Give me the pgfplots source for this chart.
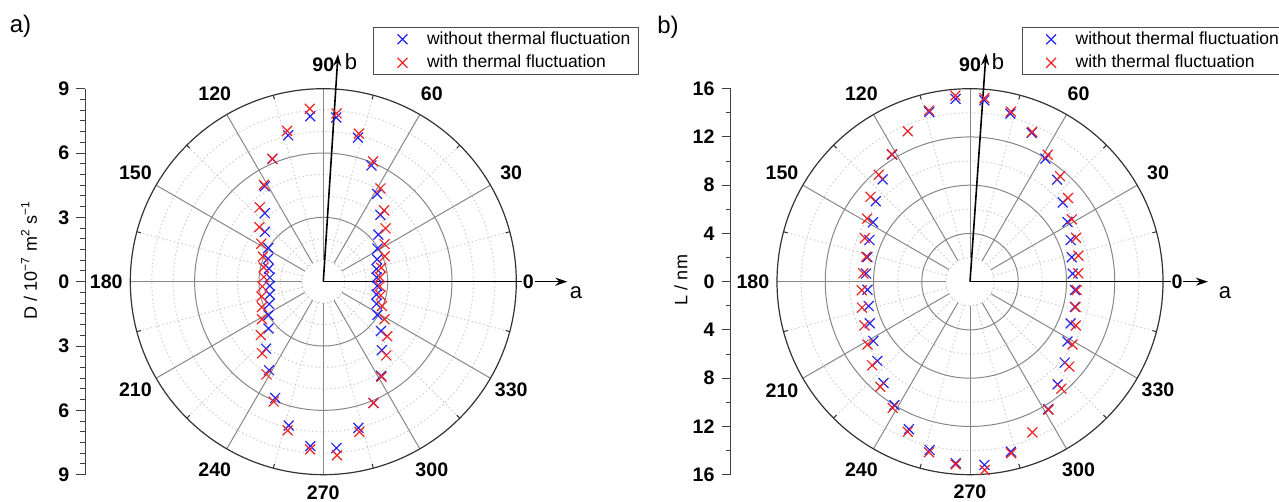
\documentclass[border=0pt]{standalone}
\usepackage{pgfplots}
\pgfplotsset{compat=1.18}
\usepackage{fontspec}
\setmainfont{Liberation Sans}
\usetikzlibrary{arrows.meta}

\definecolor{mblue}{RGB}{35,35,240}
\definecolor{mred}{RGB}{240,35,35}
\definecolor{gline}{RGB}{135,135,135}
\definecolor{dline}{RGB}{205,205,205}

\newcommand{\tickfont}{\fontsize{9.8}{11}\selectfont\bfseries}

\pgfplotsset{
  polarpanel/.style={
    scale only axis, anchor=south west, clip=false,
    axis x line=none, axis y line=left,
    y axis line style={-, black!75, line width=0.5pt},
    tick align=outside, major tick length=4.5pt, minor tick length=2.5pt,
    tick style={black!75, line width=0.5pt},
    yticklabel style={font=\tickfont},
    legend cell align=left,
    legend image code/.code={\path[draw=none, fill=none] (0pt,-3pt) rectangle (22.75pt,3pt);
      \draw[##1] plot coordinates {(12.5pt,0pt)};},
    legend style={anchor=north west, draw=black!70, line width=0.5pt,
      font=\fontsize{8.75}{10.5}\selectfont, inner xsep=2pt, inner ysep=0.8pt,
      row sep=1.5pt, /tikz/every even column/.style={column sep=0pt},
      nodes={inner xsep=2pt, inner ysep=1.2pt}},
  },
  bluex/.style={only marks, mark=x, mark size=3.5pt, mblue, line width=0.6pt, data cs=polar},
  redx/.style={only marks, mark=x, mark size=3.5pt, mred, line width=0.6pt, data cs=polar},
}

\begin{document}
\begin{tikzpicture}
\useasboundingbox (0pt,0pt) rectangle (639.5pt,251pt);

% ---------- panel a: grid ----------
\begin{scope}[shift={(161.65pt,110.15pt)}, x=10.722pt, y=10.722pt]
  \foreach \r in {1,2,4,5,7,8}
    \draw[dline, line width=0.5pt, dash pattern=on 0.7pt off 1.3pt] (0,0) circle[radius=\r];
  \foreach \a in {15,45,...,345}
    \draw[dline, line width=0.5pt, dash pattern=on 0.7pt off 1.3pt] (\a:1) -- (\a:9);
  \foreach \r in {3,6}
    \draw[gline, line width=0.5pt] (0,0) circle[radius=\r];
  \foreach \a in {30,60,...,330}
    \draw[gline, line width=0.5pt] (\a:1) -- (\a:9);
  \draw[black!80, line width=0.6pt] (0,0) circle[radius=9];
  \foreach \a in {15,45,...,345}
    \draw[black!80, line width=0.5pt] (\a:9) -- (\a:8.8);
  \draw[-{Stealth[length=6pt,width=4pt]}, line width=0.8pt] (0,0) -- (0:11.38);
  \draw[-{Stealth[length=6pt,width=4pt]}, line width=0.8pt] (0,0) -- (86.3:10.63);
  \foreach \a in {30,60,90,120,150,180,210,240,300,330}
    \node[font=\tickfont] at (\a:10.12) {\a};
  \node[font=\tickfont] at (270:9.83) {270};
  \node[font=\tickfont, fill=white, inner sep=0.5pt] at (0:9.56) {0};
\end{scope}

% ---------- panel b: grid ----------
\begin{scope}[shift={(485pt,110.15pt)}, x=6.03125pt, y=6.03125pt]
  \foreach \r in {2,6,10,14}
    \draw[dline, line width=0.5pt, dash pattern=on 0.7pt off 1.3pt] (0,0) circle[radius=\r];
  \foreach \a in {15,45,...,345}
    \draw[dline, line width=0.5pt, dash pattern=on 0.7pt off 1.3pt] (\a:2) -- (\a:16);
  \foreach \r in {4,8,12}
    \draw[gline, line width=0.5pt] (0,0) circle[radius=\r];
  \foreach \a in {30,60,...,330}
    \draw[gline, line width=0.5pt] (\a:2) -- (\a:16);
  \draw[black!80, line width=0.6pt] (0,0) circle[radius=16];
  \foreach \a in {15,45,...,345}
    \draw[black!80, line width=0.5pt] (\a:16) -- (\a:15.65);
  \draw[-{Stealth[length=6pt,width=4pt]}, line width=0.8pt] (0,0) -- (0:19.73);
  \draw[-{Stealth[length=6pt,width=4pt]}, line width=0.8pt] (0,0) -- (86.0:18.98);
  \foreach \a in {30,60,90,120,150,180,210,240,300,330}
    \node[font=\tickfont] at (\a:18.0) {\a};
  \node[font=\tickfont] at (270:17.45) {270};
  \node[font=\tickfont, fill=white, inner sep=0.5pt] at (0:17.16) {0};
\end{scope}

% ---------- panel a: data ----------
\begin{axis}[polarpanel,
  at={(42.64pt,13.65pt)}, width=215.51pt, height=193pt,
  xmin=-11.1, xmax=9, ymin=-9, ymax=9,
  ytick={-9,-6,-3,0,3,6,9}, yticklabels={9,6,3,0,3,6,9},
  minor y tick num=5,
  legend style={at={(axis cs:2.318,11.877)}},
]
\addplot[bluex] coordinates {
(4.5,2.50) (13.5,2.55) (22.5,2.72) (31.5,2.96) (40.5,3.38) (49.5,4.10)
(58.5,4.80) (67.5,5.87) (76.5,6.91) (85.5,7.68) (94.5,7.74) (103.5,7.02)
(112.5,6.20) (121.5,5.22) (130.5,4.20) (139.5,3.58) (148.5,3.01) (157.5,2.79)
(166.5,2.61) (175.5,2.50) (184.5,2.50) (193.5,2.57) (202.5,2.73) (211.5,3.00)
(220.5,3.36) (229.5,4.11) (238.5,4.84) (247.5,5.87) (256.5,6.90) (265.5,7.69)
(274.5,7.78) (283.5,7.01) (292.5,6.12) (301.5,5.15) (310.5,4.20) (319.5,3.54)
(328.5,2.96) (337.5,2.69) (346.5,2.55) (355.5,2.52)
};
\addplot[redx] coordinates {
(4.5,2.65) (13.5,2.78) (22.5,3.10) (31.5,3.35) (40.5,3.82) (49.5,4.37)
(58.5,5.10) (67.5,6.07) (76.5,7.10) (85.5,7.87) (94.5,8.09) (103.5,7.23)
(112.5,6.20) (121.5,5.30) (130.5,4.56) (139.5,3.92) (148.5,3.39) (157.5,3.05)
(166.5,2.86) (175.5,2.78) (184.5,2.85) (193.5,2.96) (202.5,3.10) (211.5,3.35)
(220.5,3.83) (229.5,4.39) (238.5,5.07) (247.5,6.05) (256.5,7.13) (265.5,7.84)
(274.5,8.12) (283.5,7.20) (292.5,6.12) (301.5,5.20) (310.5,4.52) (319.5,3.92)
(328.5,3.35) (337.5,2.96) (346.5,2.75) (355.5,2.64)
};
\legend{without thermal fluctuation, with thermal fluctuation}
\end{axis}

% ---------- panel b: data ----------
\begin{axis}[polarpanel,
  at={(365.28pt,13.65pt)}, width=216.22pt, height=193pt,
  xmin=-19.85, xmax=16, ymin=-16, ymax=16,
  ytick={-16,-12,-8,-4,0,4,8,12,16}, yticklabels={16,12,8,4,0,4,8,12,16},
  minor y tick num=1,
  legend style={at={(axis cs:4.278,21.115)}},
]
\addplot[bluex] coordinates {
(4.5,8.54) (13.5,8.68) (22.5,9.03) (31.5,9.48) (40.5,10.11) (49.5,11.12)
(58.5,11.96) (67.5,13.35) (76.5,14.33) (85.5,15.08) (94.5,15.21) (103.5,14.46)
(121.5,12.35) (130.5,11.15) (139.5,10.27) (148.5,9.43) (157.5,9.03)
(166.5,8.75) (175.5,8.64) (184.5,8.53) (193.5,8.64) (202.5,9.00) (211.5,9.40)
(220.5,10.11) (229.5,11.04) (238.5,12.00) (247.5,13.24) (256.5,14.35) (265.5,15.10)
(274.5,15.24) (283.5,14.49) (301.5,12.39) (310.5,11.19) (319.5,10.33)
(328.5,9.48) (337.5,9.03) (346.5,8.94) (355.5,8.73)
};
\addplot[redx] coordinates {
(4.5,9.00) (13.5,9.24) (22.5,9.51) (31.5,9.90) (40.5,10.68) (49.5,11.50)
(58.5,12.34) (67.5,13.45) (76.5,14.50) (85.5,15.27) (94.5,15.48) (103.5,14.60)
(112.5,13.50) (121.5,12.40) (130.5,11.66) (139.5,10.84) (148.5,10.00) (157.5,9.43)
(166.5,8.85) (175.5,8.87) (184.5,9.00) (193.5,9.21) (202.5,9.47) (211.5,9.97)
(220.5,10.67) (229.5,11.46) (238.5,12.27) (247.5,13.47) (256.5,14.55) (265.5,15.20)
(274.5,15.66) (283.5,14.63) (292.5,13.52) (301.5,12.45) (310.5,11.66) (319.5,10.83)
(328.5,9.97) (337.5,9.49) (346.5,9.00) (355.5,8.87)
};
\legend{without thermal fluctuation, with thermal fluctuation}
\end{axis}

% ---------- labels ----------
\node[font=\fontsize{12}{14}\selectfont] at (10.25pt,237.75pt) {a)};
\node[font=\fontsize{12}{14}\selectfont] at (334pt,237.5pt) {b)};
\node[rotate=90, font=\fontsize{9}{11}\selectfont] at (14.5pt,121pt)
  {D / 10\textsuperscript{−7} m\textsuperscript{2} s\textsuperscript{−1}};
\node[rotate=90, font=\fontsize{9}{11}\selectfont] at (340.5pt,111pt) {L / nm};
\node[font=\fontsize{11}{13}\selectfont] at (288pt,104.5pt) {a};
\node[font=\fontsize{11}{13}\selectfont] at (175.5pt,220pt) {b};
\node[font=\fontsize{11}{13}\selectfont] at (612.5pt,104.5pt) {a};
\node[font=\fontsize{11}{13}\selectfont] at (499pt,220pt) {b};
\end{tikzpicture}
\end{document}
